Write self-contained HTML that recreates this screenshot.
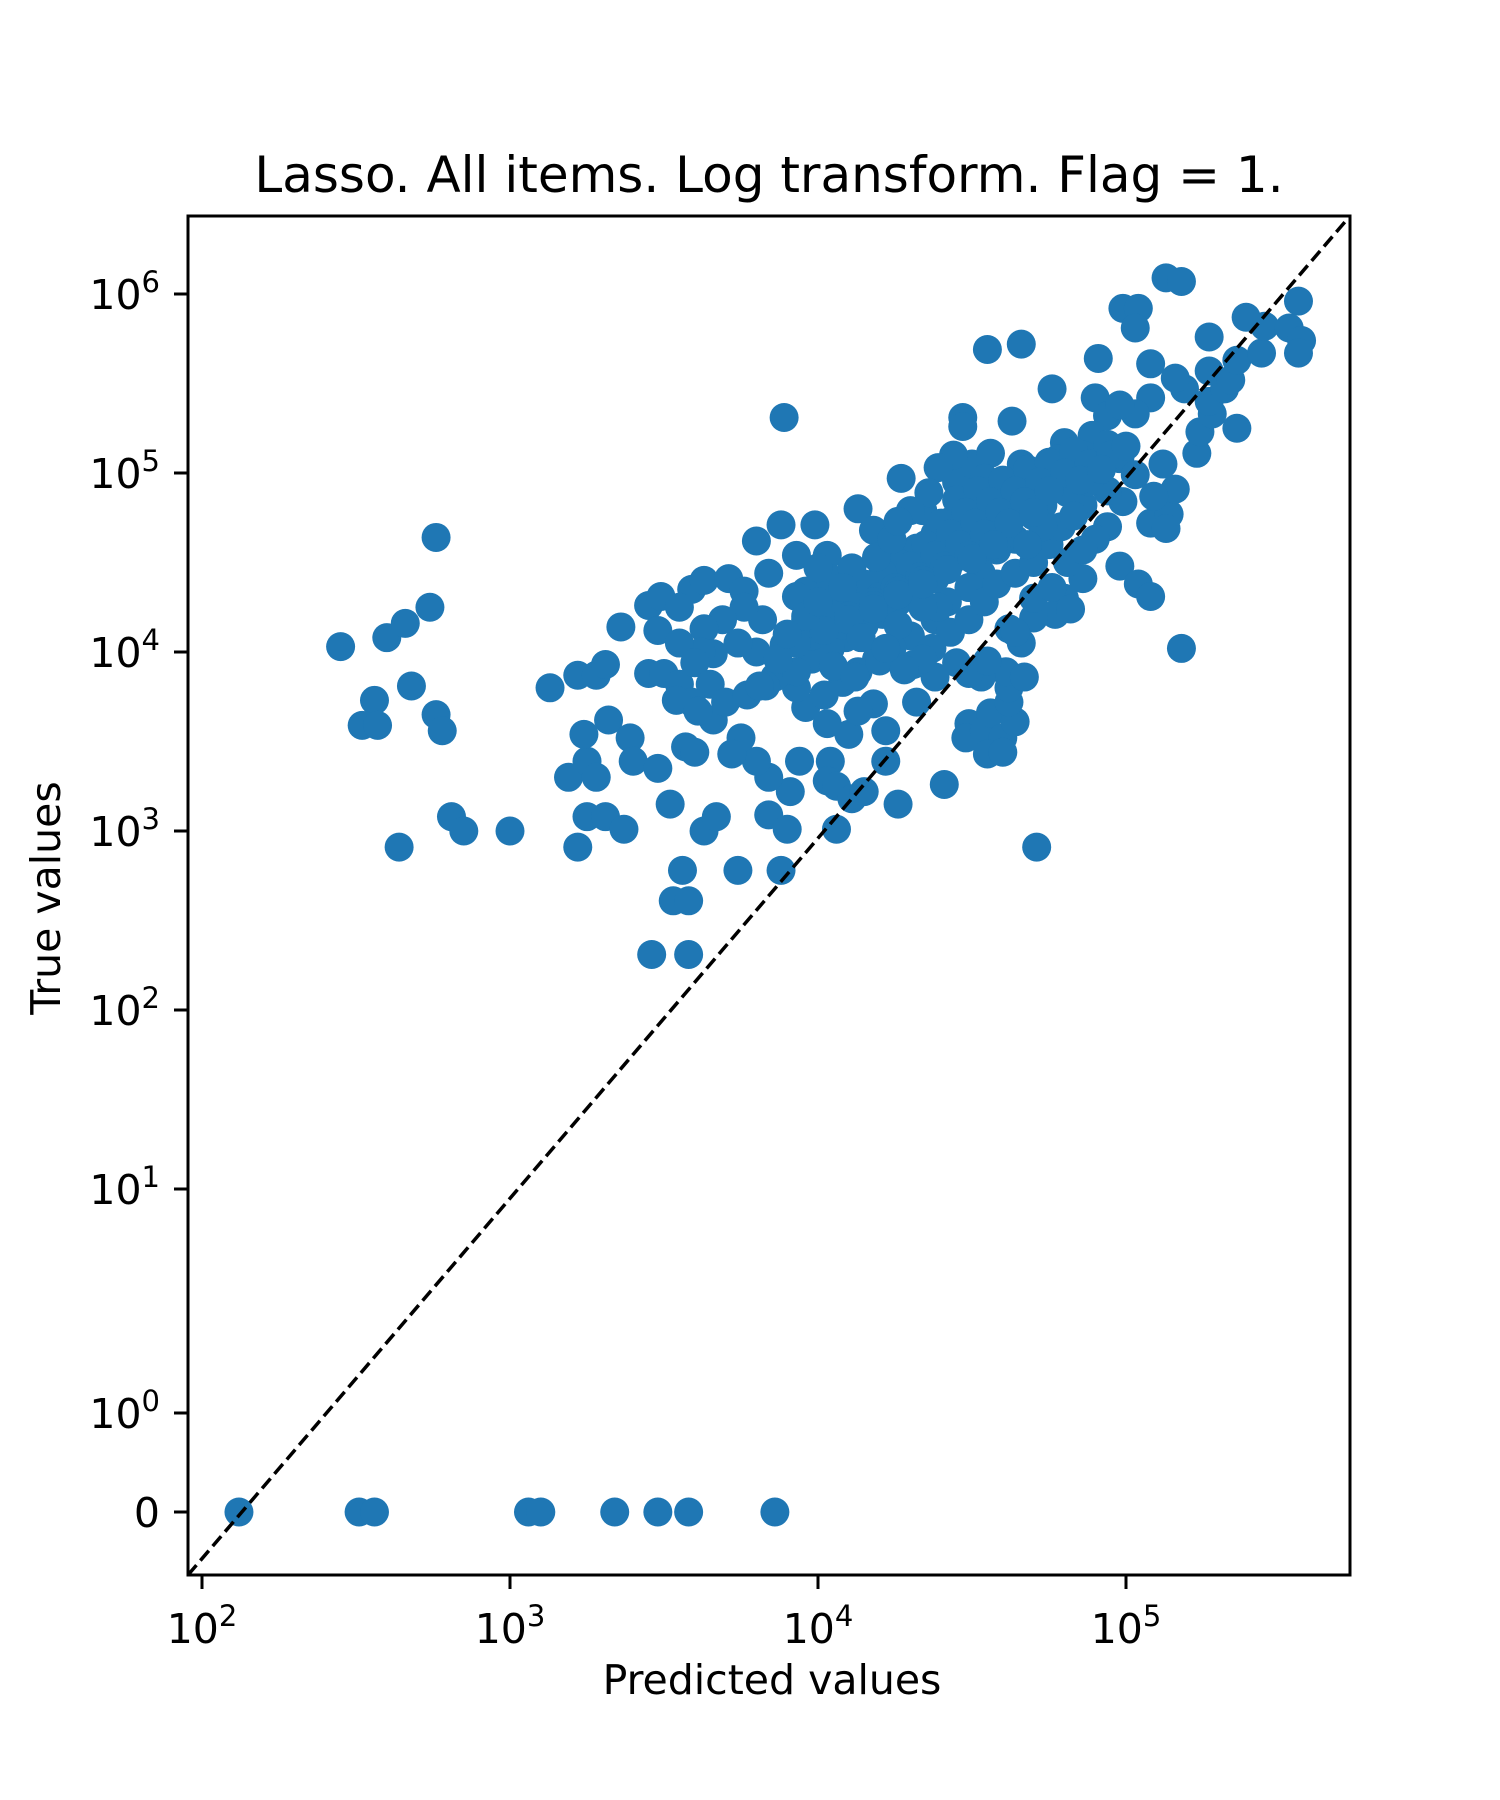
<!DOCTYPE html>
<html><head><meta charset="utf-8"><style>
html,body{margin:0;padding:0;background:#fff;}
svg{display:block;font-family:"DejaVu Sans","Liberation Sans",sans-serif;}
</style></head><body>
<svg id="chart" width="1500" height="1800" viewBox="0 0 1500 1800" xmlns="http://www.w3.org/2000/svg">
<rect width="1500" height="1800" fill="#fff"/>
<text x="769" y="192" font-size="50" text-anchor="middle">Lasso. All items. Log transform. Flag = 1.</text>
<g id="points"></g>
<line x1="188" y1="1575" x2="1350" y2="216" stroke="#000" stroke-width="3.5" stroke-dasharray="13,6"/>
<rect x="188" y="216" width="1162" height="1359" fill="none" stroke="#000" stroke-width="3"/>
<g id="xticks"></g>
<g id="yticks"></g>
<text x="772" y="1694" font-size="41" text-anchor="middle">Predicted values</text>
<text x="60" y="898" font-size="41" text-anchor="middle" transform="rotate(-90 60 898)">True values</text>
</svg>
<script>
// data stored as log10 of values; trueLog null => true value 0
const predLog = [2.12,2.51,2.56,3.06,3.10,3.34,3.48,3.58,3.86,
2.45,2.60,2.66,2.76,2.74,2.68,2.56,2.52,2.57,2.76,2.78,2.81,2.85,2.64,3.00,
3.89,3.13,3.22,3.28,3.31,3.36,3.45,3.49,3.48,3.45,3.50,3.55,3.59,3.63,3.71,3.76,3.84,3.80,3.88,3.93,3.99,4.03,4.13,4.18,4.27,
3.19,3.25,3.28,3.24,3.32,3.39,3.40,3.48,3.57,3.60,3.66,3.52,3.63,3.67,3.56,3.74,3.53,3.58,3.46,3.58,3.22,3.25,3.31,3.37,3.84,3.90,3.88,3.91,3.84,3.80,3.94,3.75,3.72,4.04,4.03,4.06,4.11,4.06,4.15,4.22,4.26,4.22,4.18,4.10,4.13,4.03,3.96,3.93,3.86,3.83,3.89,3.82,3.80,3.74,3.76,3.69,3.63,3.66,3.62,3.55,3.60,3.65,3.70,3.77,3.81,3.59,3.54,3.61,3.55,
4.71,4.41,4.49,4.48,4.54,4.56,4.60,4.55,4.60,4.64,4.62,4.62,4.61,4.67,4.62,4.66,4.53,4.49,4.45,4.38,4.32,4.31,5.18,4.98,5.04,5.08,4.80,4.86,4.81,4.77,4.70,4.64,4.55,5.08,5.14,5.16,5.12,5.23,5.24,5.28,5.36,5.27,5.19,5.16,5.08,5.08,5.27,5.32,5.34,5.36,5.44,5.45,5.39,5.27,5.56,5.53,5.57,5.56,5.13,5.18,4.99,5.04,5.03,4.91,4.55,4.66,4.76,5.03,4.90,4.94,4.98,4.47,4.47,4.63,4.89,4.80,4.78,4.82,4.86,4.94,4.98,5.03,4.99,4.94,4.90,4.86,4.94,4.86,4.81,4.73,4.70,4.64,4.58,4.53,4.49,4.42,4.38,4.30,4.24,4.19,4.13,4.08,4.02,
4.71,4.66,4.60,4.55,4.49,4.43,4.38,4.32,4.26,4.21,4.15,4.09,4.04,3.96,3.96,4.04,4.11,4.19,4.34,4.45,4.50,4.56,4.54,4.44,4.39,4.36,4.30,4.24,4.64,4.60,4.55,4.49,4.43,4.38,4.32,4.26,4.21,4.15,4.09,4.04,3.98,3.93,4.43,4.37,4.39,4.49,4.54,4.58,4.64,4.70,4.75,4.79,4.83,4.88,4.92,4.73,4.68,4.26,4.30,4.20,4.13,4.08,3.98,3.93,3.87,3.93,4.00,4.26,4.34,4.34,5.09,5.13,
4.45,4.52,4.60,4.68,4.75,4.83,4.40,4.48,4.56,4.64,4.72,4.80,4.35,4.43,4.51,4.59,4.67,4.75,4.30,4.38,4.46,4.54,4.62,4.70,4.25,4.33,4.41,4.49,4.57,4.18,4.26,4.34,4.42,4.50,4.10,4.18,4.26,4.34,4.02,4.10,4.18,4.88,4.95,5.00,4.85,4.92,3.96,3.90,4.00,4.08,
4.05,4.12,4.20,4.28,4.14,4.22,4.70,4.76,4.82];
const trueLog = [null,null,null,null,null,null,null,null,null,
4.03,4.08,4.16,4.64,4.25,3.81,3.73,3.59,3.59,3.65,3.56,3.08,3.00,2.91,3.00,
5.31,3.80,3.87,3.87,3.93,4.14,4.26,4.31,4.12,3.88,3.88,3.82,4.35,4.40,4.41,4.34,4.44,4.62,4.71,4.54,4.71,4.54,4.80,4.68,4.97,
3.30,3.39,3.30,3.54,3.62,3.52,3.39,3.35,3.47,3.44,3.62,3.15,3.00,3.08,2.78,2.78,2.61,2.61,2.31,2.31,2.91,3.08,3.08,3.01,3.09,3.01,2.78,3.22,3.30,3.39,3.39,3.52,3.43,3.39,3.28,3.25,3.18,3.01,3.22,3.39,3.15,3.56,3.71,3.54,3.67,3.60,3.69,3.80,3.86,3.81,4.04,4.18,4.00,4.05,4.25,4.18,4.13,3.99,4.00,4.05,3.94,3.82,3.72,3.76,3.81,3.72,3.73,3.67,4.25,
2.91,3.26,3.60,3.52,3.56,3.66,3.52,3.43,3.44,3.61,3.72,3.80,3.89,3.86,4.13,4.05,3.86,3.88,3.94,3.86,3.72,3.93,4.02,4.48,4.38,4.31,4.30,4.41,4.50,4.21,4.19,4.11,3.95,4.72,4.77,4.91,5.05,5.11,5.23,5.33,5.25,5.40,5.47,5.53,5.42,5.61,5.57,5.47,5.52,5.63,5.67,5.82,5.87,5.76,5.96,5.81,5.74,5.67,6.09,6.07,5.92,5.92,5.81,5.64,5.69,5.72,5.47,5.33,5.42,5.32,5.38,5.31,5.26,5.29,5.21,5.17,5.08,5.01,5.10,5.16,5.08,4.99,4.84,4.70,4.63,4.57,4.90,4.82,4.89,4.82,4.76,4.63,4.57,4.44,4.36,4.28,4.18,4.09,4.02,3.96,3.89,3.83,3.76,
4.95,5.05,4.95,4.89,4.82,4.73,4.66,4.58,4.50,4.44,4.38,4.31,4.25,4.18,4.34,4.41,4.47,4.53,4.79,4.95,5.05,5.11,4.97,5.10,5.03,4.89,4.79,4.63,4.82,4.73,4.66,4.57,4.50,4.41,4.34,4.28,4.21,4.15,4.08,4.02,3.96,3.89,4.11,4.02,4.25,4.18,4.28,4.38,4.44,4.50,4.60,4.70,4.76,4.95,5.02,4.70,4.60,4.73,4.38,4.31,4.25,4.15,4.09,4.05,3.96,4.31,4.47,4.15,3.96,4.25,4.87,4.69,
4.85,4.90,4.96,5.02,5.06,5.12,4.72,4.78,4.84,4.90,4.95,5.00,4.60,4.66,4.72,4.78,4.84,4.90,4.48,4.54,4.60,4.66,4.72,4.78,4.36,4.42,4.48,4.54,4.60,4.28,4.34,4.40,4.46,4.52,4.20,4.26,4.32,4.38,4.12,4.18,4.24,5.05,5.10,5.15,4.96,5.02,4.20,4.10,4.28,4.36,
3.92,3.86,3.95,3.90,4.08,4.02,4.30,4.36,4.24];
const xTickExp = [2,3,4,5];
const yTickLabels = ["0","10^0","10^1","10^2","10^3","10^4","10^5","10^6"];
const yTickVals = [null,0,1,2,3,4,5,6];

function xScale(lx){ return 202 + 308*(lx-2); }
function yScale(ly){
  if (ly === null) return 1512;
  if (ly <= 0) return 1413;
  if (ly <= 1) return 1413 - 224*ly;
  return 1189 - 179*(ly-1);
}
const NS = "http://www.w3.org/2000/svg";
const pg = document.getElementById('points');
for (let i=0;i<predLog.length;i++){
  const c = document.createElementNS(NS,'circle');
  c.setAttribute('cx', xScale(predLog[i]));
  c.setAttribute('cy', yScale(trueLog[i]));
  c.setAttribute('r', 14.5);
  c.setAttribute('fill', '#1f77b4');
  
  
  pg.appendChild(c);
}
const xg = document.getElementById('xticks');
xTickExp.forEach(e=>{
  const x = xScale(e);
  const l = document.createElementNS(NS,'line');
  l.setAttribute('x1',x); l.setAttribute('x2',x); l.setAttribute('y1',1575); l.setAttribute('y2',1589);
  l.setAttribute('stroke','#000'); l.setAttribute('stroke-width','3');
  
  
  xg.appendChild(l);
  const t = document.createElementNS(NS,'text');
  t.setAttribute('x', x); t.setAttribute('y', 1643); t.setAttribute('font-size','41'); t.setAttribute('text-anchor','middle');
  t.innerHTML = '10<tspan dy="-17" font-size="29">'+e+'</tspan>';
  
  
  xg.appendChild(t);
});
const yg = document.getElementById('yticks');
yTickVals.forEach((v,i)=>{
  const y = yScale(v);
  const l = document.createElementNS(NS,'line');
  l.setAttribute('x1',174); l.setAttribute('x2',188); l.setAttribute('y1',y); l.setAttribute('y2',y);
  l.setAttribute('stroke','#000'); l.setAttribute('stroke-width','3');
  
  
  yg.appendChild(l);
  const t = document.createElementNS(NS,'text');
  t.setAttribute('x', 160); t.setAttribute('y', y+15); t.setAttribute('font-size','41'); t.setAttribute('text-anchor','end');
  const lab = yTickLabels[i];
  if (lab.indexOf('^')>=0){ const p=lab.split('^'); t.innerHTML = p[0]+'<tspan dy="-17" font-size="29">'+p[1]+'</tspan>'; }
  else t.textContent = lab;
  
  
  yg.appendChild(t);
});
</script>
</body></html>
